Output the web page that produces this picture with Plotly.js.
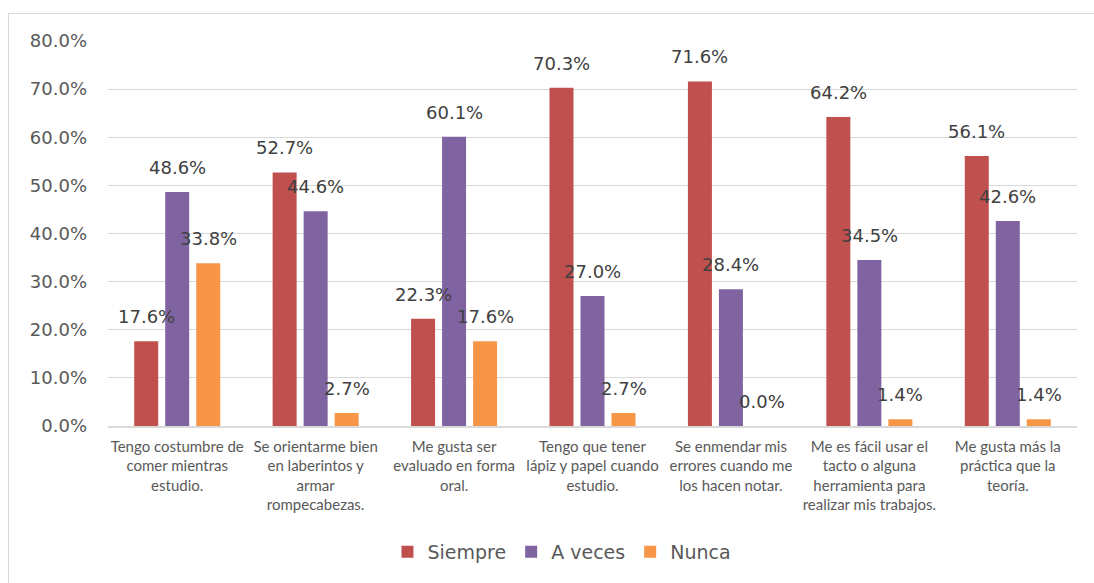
<!DOCTYPE html>
<html>
<head>
<meta charset="utf-8">
<script src="https://cdn.plot.ly/plotly-3.0.1.min.js"></script>
<style>
  html, body { margin: 0; padding: 0; background: #ffffff; overflow: hidden; }
  #wrap { position: relative; width: 1094px; height: 583px; overflow: hidden; }
  #chart { position: absolute; left: 0; top: 0; width: 1094px; height: 583px; }
  #frame { position: absolute; left: 8px; top: 13px; width: 1200px; height: 700px;
           border: 1px solid #d9d9d9; pointer-events: none; }
</style>
</head>
<body>
<div id="wrap">
  <div id="chart"></div>
  <div id="frame"></div>
</div>
<script>
// ---- data ----
const categories = [
  "Tengo costumbre de<br>comer mientras<br>estudio.",
  "Se orientarme bien<br>en laberintos y<br>armar<br>rompecabezas.",
  "Me gusta ser<br>evaluado en forma<br>oral.",
  "Tengo que tener<br>lápiz y papel cuando<br>estudio.",
  "Se enmendar mis<br>errores cuando me<br>los hacen notar.",
  "Me es fácil usar el<br>tacto o alguna<br>herramienta para<br>realizar mis trabajos.",
  "Me gusta más la<br>práctica que la<br>teoría."
];
const seriesNames = ["Siempre", "A veces", "Nunca"];
const siempre = [17.6, 52.7, 22.3, 70.3, 71.6, 64.2, 56.1];
const aVeces  = [48.6, 44.6, 60.1, 27.0, 28.4, 34.5, 42.6];
const nunca   = [33.8, 2.7, 17.6, 2.7, 0.0, 1.4, 1.4];
const yTickVals = [0, 10, 20, 30, 40, 50, 60, 70, 80];

// ---- styles ----
const colors = ["#C0504D", "#8064A2", "#F79646"];
const W = 1094, H = 583;
const margin = {l: 108, r: 17, t: 41, b: 157};
const bargap = 0.328, bargroupgap = 0.226;

const allSeries = [siempre, aVeces, nunca];
const traces = allSeries.map((vals, i) => ({
  type: "bar",
  name: seriesNames[i],
  x: categories,
  y: vals,
  marker: {color: colors[i]},
  hoverinfo: "none"
}));

const catWidth = (W - margin.l - margin.r) / categories.length;
const slot = catWidth * (1 - bargap) / allSeries.length;

const annotations = [];
allSeries.forEach((vals, i) => {
  vals.forEach((v, j) => {
    annotations.push({
      x: categories[j], y: v, xref: "x", yref: "y",
      text: v.toFixed(1) + "%",
      showarrow: false,
      xanchor: "center", yanchor: "bottom",
      xshift: (i - 1) * slot,
      yshift: 12,
      font: {family: "DejaVu Sans", size: 18, color: "#404040"}
    });
  });
});

const layout = {
  width: W, height: H, autosize: false,
  margin: margin,
  paper_bgcolor: "#ffffff",
  plot_bgcolor: "#ffffff",
  barmode: "group",
  bargap: bargap,
  bargroupgap: bargroupgap,
  showlegend: true,
  legend: {
    orientation: "h",
    x: 0.4685, xanchor: "center",
    y: -0.327, yanchor: "middle",
    font: {family: "DejaVu Sans", size: 19, color: "#595959"}
  },
  xaxis: {
    type: "category",
    showgrid: false,
    showline: true,
    linecolor: "#d9d9d9",
    linewidth: 1.5,
    ticks: "",
    ticklabelstandoff: 6,
    tickfont: {family: "Lato", size: 15, color: "#595959"},
    fixedrange: true
  },
  yaxis: {
    range: [0, 80],
    tickvals: yTickVals,
    ticktext: yTickVals.map(v => v.toFixed(1) + "%"),
    showgrid: true,
    gridcolor: "#d9d9d9",
    gridwidth: 1,
    zeroline: false,
    showline: false,
    ticks: "",
    ticklabelstandoff: 20,
    tickfont: {family: "DejaVu Sans", size: 18, color: "#595959"},
    fixedrange: true
  },
  annotations: annotations,
  font: {family: "DejaVu Sans", color: "#595959"}
};

Plotly.newPlot("chart", traces, layout, {staticPlot: true, displayModeBar: false});
</script>
</body>
</html>
